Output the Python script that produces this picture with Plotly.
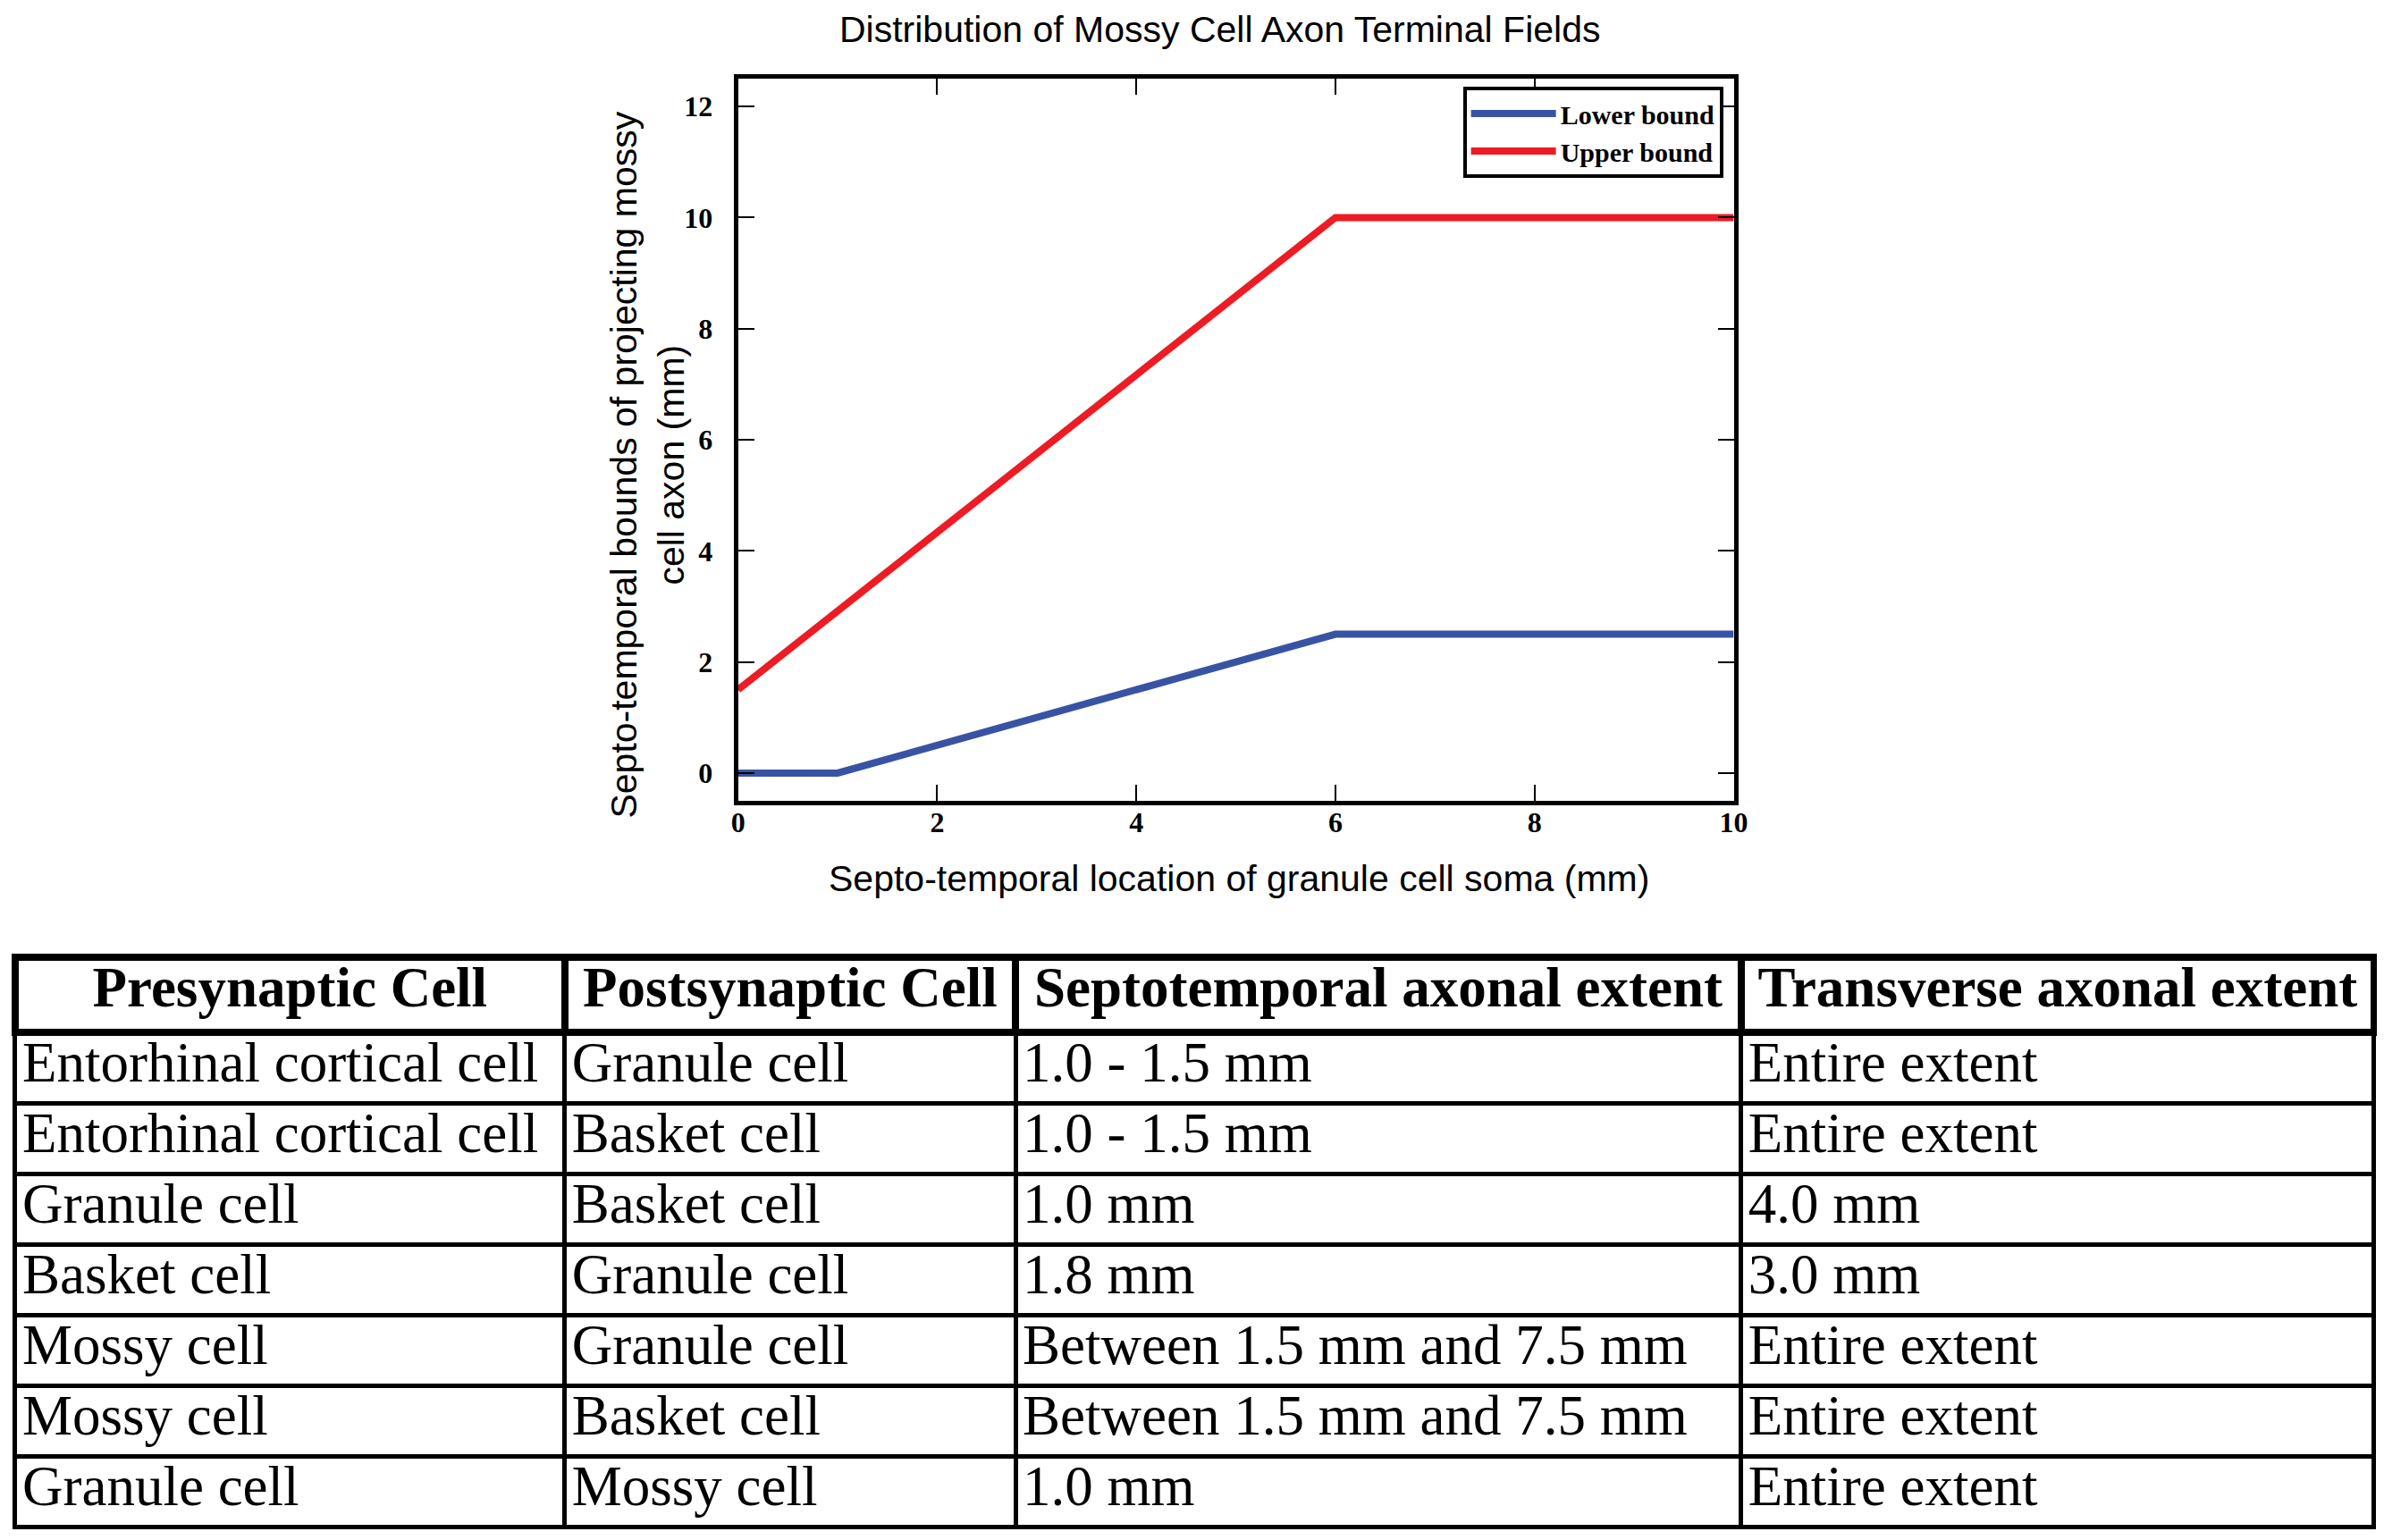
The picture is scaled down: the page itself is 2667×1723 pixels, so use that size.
import plotly.graph_objects as go

# chart data
soma_x = [0, 1, 6, 10]
lower_bound = [0, 0, 2.5, 2.5]
upper_x = [0, 6, 10]
upper_bound = [1.5, 10, 10]

# table data
headers = ["Presynaptic Cell", "Postsynaptic Cell", "Septotemporal axonal extent", "Transverse axonal extent"]
presyn = ["Entorhinal cortical cell", "Entorhinal cortical cell", "Granule cell", "Basket cell",
          "Mossy cell", "Mossy cell", "Granule cell"]
postsyn = ["Granule cell", "Basket cell", "Basket cell", "Granule cell",
           "Granule cell", "Basket cell", "Mossy cell"]
septo_extent = ["1.0 - 1.5 mm", "1.0 - 1.5 mm", "1.0 mm", "1.8 mm",
                "Between 1.5 mm and 7.5 mm", "Between 1.5 mm and 7.5 mm", "1.0 mm"]
trans_extent = ["Entire extent", "Entire extent", "4.0 mm", "3.0 mm",
                "Entire extent", "Entire extent", "Entire extent"]

W, H = 2667, 1723


def px(x):
    return x / W


def py(y):
    return 1 - y / H


sans = "Liberation Sans, Arial, sans-serif"
serif = "Liberation Serif, Times New Roman, serif"

fig = go.Figure()

fig.add_trace(go.Scatter(x=soma_x, y=lower_bound, mode="lines", name="Lower bound",
                         line=dict(color="#3953A4", width=8)))
fig.add_trace(go.Scatter(x=upper_x, y=upper_bound, mode="lines", name="Upper bound",
                         line=dict(color="#ED1C24", width=8)))

fig.add_trace(go.Table(
    domain=dict(x=[px(1), px(2664)], y=[py(1708), py(1063)]),
    columnwidth=[362, 297, 478, 417],
    header=dict(values=headers, align="center", height=84,
                font=dict(family=serif, size=63, color="black", weight="bold"),
                line=dict(color="black", width=8), fill=dict(color="white")),
    cells=dict(values=[presyn, postsyn, septo_extent, trans_extent], align="left", height=79,
               font=dict(family=serif, size=63, color="black"),
               line=dict(color="black", width=5), fill=dict(color="white")),
))

axis_common = dict(showline=True, linecolor="black", linewidth=5, mirror="allticks",
                   ticks="inside", ticklen=18, tickwidth=2, tickcolor="black",
                   showgrid=False, zeroline=False, dtick=2,
                   tickfont=dict(family=serif, size=32, color="black", weight="bold"))

fig.update_xaxes(range=[0, 10], domain=[px(817), px(1941)], tick0=0,
                 ticklabelstandoff=-8, **axis_common)
fig.update_yaxes(range=[-0.5, 12.5], domain=[py(888), py(80)], tick0=0,
                 ticklabelstandoff=17, **axis_common)

fig.add_annotation(text="Distribution of Mossy Cell Axon Terminal Fields",
                   x=px(1361), y=1, xref="paper", yref="paper",
                   xanchor="center", yanchor="top",
                   showarrow=False, font=dict(family=sans, size=41, color="black"))
fig.add_annotation(text="Septo-temporal location of granule cell soma (mm)",
                   x=px(1382), y=py(975), xref="paper", yref="paper",
                   xanchor="center", yanchor="middle",
                   showarrow=False, font=dict(family=sans, size=41, color="black"))
fig.add_annotation(text="Septo-temporal bounds of projecting mossy<br>cell axon (mm)",
                   x=px(714), y=py(512), xref="paper", yref="paper", textangle=-90,
                   xanchor="center", yanchor="middle",
                   showarrow=False, font=dict(family=sans, size=41, color="black"))

fig.update_layout(
    width=W, height=H,
    margin=dict(l=0, r=0, t=0, b=0),
    paper_bgcolor="white", plot_bgcolor="white",
    legend=dict(x=px(1929), y=py(89), xanchor="right", yanchor="top",
                bordercolor="black", borderwidth=4, bgcolor="white", itemwidth=95,
                font=dict(family=serif, size=30, color="black", weight="bold")),
)

fig.write_html("out.html")
